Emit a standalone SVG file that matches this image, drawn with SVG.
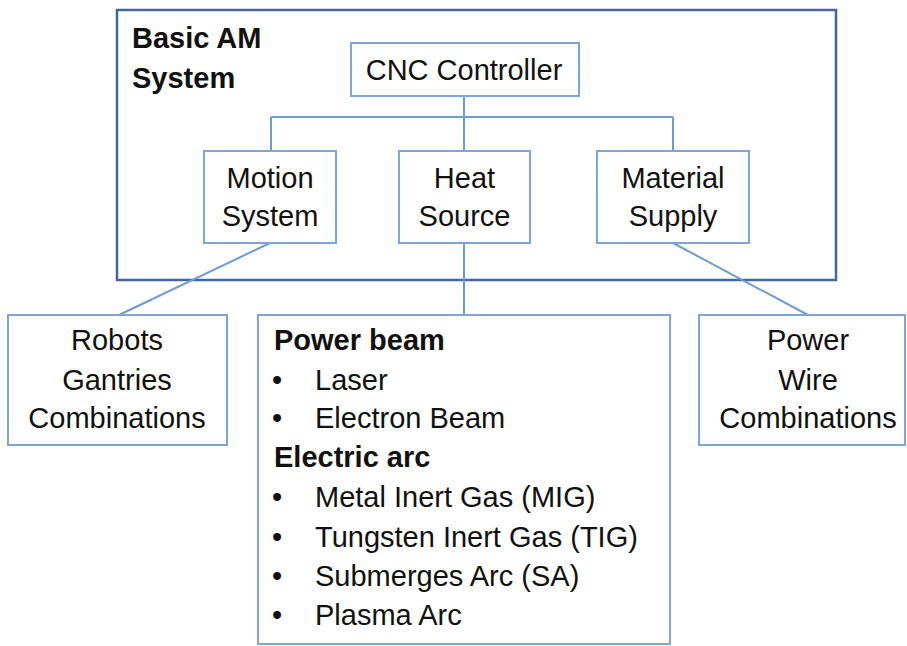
<svg xmlns="http://www.w3.org/2000/svg" width="907" height="646" viewBox="0 0 907 646">
<style>
.box{fill:#fff;stroke:#7ca5da;stroke-width:2}
.outer{fill:none;stroke:#41679e;stroke-width:2.5}
.con{fill:none;stroke:#6f9bd3;stroke-width:2}
text{font-family:"Liberation Sans",Arial,sans-serif;font-size:29px;fill:#111}
.c{text-anchor:middle}
.b{font-weight:bold}
</style>
<rect width="907" height="646" fill="#fff"/>
<g id="basic-am-system">
<rect class="outer" x="117" y="10" width="719" height="270"/>
<text class="b" x="132" y="48" font-size="27">Basic AM</text>
<text class="b" x="132" y="88" font-size="27">System</text>
</g>
<g id="connectors">
<path class="con" d="M464 96V151M271 117H673M271 117V151M673 117V151"/>
<path class="con" d="M464 243V315"/>
<path class="con" d="M270 243L119 315"/>
<path class="con" d="M673 243L808 315"/>
</g>
<g id="cnc-controller">
<rect class="box" x="351" y="43" width="228" height="53"/>
<text class="c" x="464" y="80">CNC Controller</text>
</g>
<g id="motion-system">
<rect class="box" x="204" y="151" width="132" height="92"/>
<text class="c" x="270" y="188">Motion</text>
<text class="c" x="270" y="226">System</text>
</g>
<g id="heat-source">
<rect class="box" x="399" y="151" width="131" height="92"/>
<text class="c" x="464.5" y="188">Heat</text>
<text class="c" x="464.5" y="226">Source</text>
</g>
<g id="material-supply">
<rect class="box" x="597" y="151" width="152" height="92"/>
<text class="c" x="673" y="188">Material</text>
<text class="c" x="673" y="226">Supply</text>
</g>
<g id="motion-types">
<rect class="box" x="8" y="315" width="219" height="130"/>
<text class="c" x="117" y="350">Robots</text>
<text class="c" x="117" y="390">Gantries</text>
<text class="c" x="117" y="428">Combinations</text>
</g>
<g id="heat-types">
<rect class="box" x="258" y="315" width="412" height="329"/>
<text class="b" x="274" y="350" font-size="28">Power beam</text>
<text x="272" y="390">•</text><text x="315" y="390">Laser</text>
<text x="272" y="428">•</text><text x="315" y="428">Electron Beam</text>
<text class="b" x="274" y="467" font-size="28">Electric arc</text>
<text x="272" y="507">•</text><text x="315" y="507">Metal Inert Gas (MIG)</text>
<text x="272" y="547">•</text><text x="315" y="547">Tungsten Inert Gas (TIG)</text>
<text x="272" y="586">•</text><text x="315" y="586">Submerges Arc (SA)</text>
<text x="272" y="625">•</text><text x="315" y="625">Plasma Arc</text>
</g>
<g id="material-types">
<rect class="box" x="699" y="315" width="206" height="130"/>
<text class="c" x="808" y="350">Power</text>
<text class="c" x="808" y="390">Wire</text>
<text class="c" x="808" y="428">Combinations</text>
</g>
</svg>
